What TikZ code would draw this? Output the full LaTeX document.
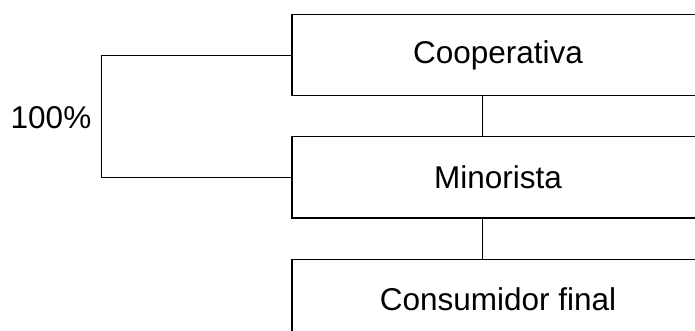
\documentclass[tikz,border=0pt]{standalone}
\usepackage{fontspec}
\setmainfont{Liberation Sans}
\usepackage{tikz}
\usetikzlibrary{positioning,calc}

\begin{document}
\begin{tikzpicture}[x=1pt, y=1pt,
    node distance=40pt, box/.style={rectangle, draw, line width=1.2pt, minimum width=412pt, minimum height=81pt, inner sep=0pt, font=\fontsize{31.5}{36}\selectfont}, link/.style={line width=1.2pt}
]
\useasboundingbox (0,0) rectangle (695,-331);
\node[box] (coop) at (498,-55.2) {Cooperativa};
\node[box, below=of coop] (mino) {Minorista};
\node[box, below=of mino] (cons) {Consumidor final};
\node[font=\fontsize{31.5}{36}\selectfont] (pct) at (51,-117.7) {100\%};
\draw[link] ([xshift=-15.3pt]coop.south) -- ([xshift=-15.3pt]mino.north);
\draw[link] ([xshift=-15.3pt]mino.south) -- ([xshift=-15.3pt]cons.north);
\draw[link] (coop.west) -- ++(-190,0) |- (mino.west);
\end{tikzpicture}
\end{document}
